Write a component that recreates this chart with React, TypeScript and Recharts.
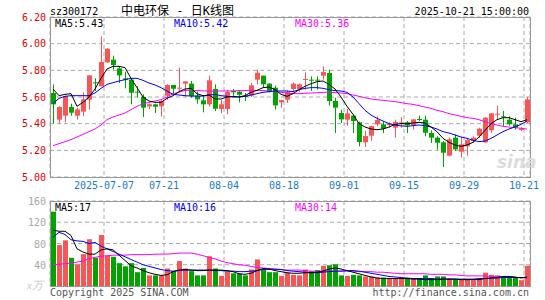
import React from "react";
import { ComposedChart, Bar, Line, XAxis, YAxis, CartesianGrid } from "recharts";

const MONO = "'DejaVu Sans Mono', 'Liberation Mono', monospace";
const TITLE_FONT = "'DejaVu Sans Mono', 'Noto Sans CJK SC', sans-serif";
const RED = "#f65656";
const GREEN = "#00a300";
const GRID = "#aaa";
const BORDER = "#999";

// daily candles, 2025-06-24 .. 2025-10-21
const OPEN = [5.63, 5.43, 5.46, 5.525, 5.46, 5.49, 5.58, 5.71, 5.68, 5.86, 5.88, 5.815, 5.74, 5.73, 5.64, 5.6, 5.53, 5.545, 5.53, 5.61, 5.69, 5.665, 5.7, 5.7, 5.61, 5.575, 5.545, 5.66, 5.51, 5.51, 5.645, 5.64, 5.61, 5.61, 5.73, 5.76, 5.7, 5.67, 5.56, 5.58, 5.66, 5.66, 5.73, 5.73, 5.73, 5.76, 5.78, 5.57, 5.48, 5.43, 5.46, 5.41, 5.26, 5.31, 5.395, 5.395, 5.39, 5.37, 5.405, 5.41, 5.39, 5.435, 5.43, 5.33, 5.295, 5.26, 5.16, 5.295, 5.19, 5.23, 5.27, 5.31, 5.26, 5.35, 5.47, 5.455, 5.43, 5.395, 5.355, 5.41];
const HIGH = [5.695, 5.53, 5.61, 5.55, 5.52, 5.635, 5.765, 5.74, 6.055, 5.965, 5.91, 5.83, 5.79, 5.735, 5.68, 5.62, 5.55, 5.55, 5.575, 5.695, 5.69, 5.82, 5.72, 5.72, 5.64, 5.61, 5.76, 5.695, 5.58, 5.655, 5.66, 5.645, 5.63, 5.705, 5.805, 5.76, 5.705, 5.685, 5.58, 5.65, 5.71, 5.7, 5.785, 5.755, 5.755, 5.83, 5.805, 5.595, 5.505, 5.51, 5.47, 5.415, 5.345, 5.385, 5.455, 5.42, 5.41, 5.43, 5.45, 5.42, 5.435, 5.46, 5.46, 5.35, 5.305, 5.27, 5.295, 5.32, 5.3, 5.295, 5.305, 5.37, 5.45, 5.48, 5.535, 5.495, 5.455, 5.445, 5.375, 5.6];
const LOW = [5.4, 5.4, 5.41, 5.46, 5.43, 5.455, 5.505, 5.645, 5.68, 5.855, 5.805, 5.705, 5.665, 5.545, 5.595, 5.45, 5.51, 5.48, 5.455, 5.58, 5.63, 5.645, 5.605, 5.595, 5.55, 5.485, 5.53, 5.495, 5.48, 5.47, 5.61, 5.56, 5.57, 5.6, 5.695, 5.67, 5.635, 5.505, 5.52, 5.555, 5.635, 5.64, 5.655, 5.645, 5.655, 5.73, 5.535, 5.33, 5.405, 5.385, 5.33, 5.23, 5.225, 5.27, 5.38, 5.33, 5.37, 5.295, 5.37, 5.33, 5.355, 5.42, 5.305, 5.255, 5.205, 5.075, 5.155, 5.195, 5.145, 5.16, 5.255, 5.295, 5.255, 5.33, 5.43, 5.38, 5.385, 5.355, 5.345, 5.405];
const CLOSE = [5.545, 5.525, 5.607, 5.482, 5.507, 5.582, 5.762, 5.707, 5.862, 5.962, 5.84, 5.762, 5.73, 5.632, 5.635, 5.52, 5.545, 5.527, 5.57, 5.69, 5.662, 5.67, 5.717, 5.607, 5.582, 5.545, 5.725, 5.512, 5.545, 5.637, 5.635, 5.617, 5.6, 5.687, 5.782, 5.695, 5.637, 5.537, 5.577, 5.637, 5.7, 5.695, 5.735, 5.725, 5.725, 5.787, 5.57, 5.52, 5.432, 5.477, 5.42, 5.262, 5.307, 5.382, 5.427, 5.362, 5.4, 5.412, 5.41, 5.387, 5.432, 5.43, 5.332, 5.295, 5.257, 5.182, 5.282, 5.207, 5.245, 5.277, 5.295, 5.362, 5.445, 5.477, 5.475, 5.45, 5.395, 5.37, 5.36, 5.582];
const MA5 = [5.66, 5.61, 5.62, 5.625, 5.53, 5.56, 5.6, 5.66, 5.74, 5.81, 5.83, 5.83, 5.82, 5.74, 5.67, 5.6, 5.57, 5.56, 5.56, 5.59, 5.61, 5.64, 5.66, 5.665, 5.625, 5.61, 5.615, 5.585, 5.585, 5.6, 5.605, 5.6, 5.61, 5.635, 5.65, 5.67, 5.675, 5.655, 5.62, 5.605, 5.625, 5.655, 5.68, 5.7, 5.715, 5.72, 5.695, 5.66, 5.6, 5.53, 5.47, 5.4, 5.375, 5.36, 5.355, 5.36, 5.375, 5.395, 5.4, 5.4, 5.405, 5.41, 5.405, 5.375, 5.34, 5.29, 5.26, 5.24, 5.23, 5.24, 5.26, 5.3, 5.35, 5.4, 5.43, 5.445, 5.445, 5.43, 5.415, 5.43];
const MA10 = [5.55, 5.59, 5.605, 5.61, 5.61, 5.61, 5.61, 5.63, 5.665, 5.695, 5.707, 5.72, 5.73, 5.74, 5.74, 5.725, 5.705, 5.69, 5.67, 5.645, 5.62, 5.615, 5.61, 5.607, 5.607, 5.607, 5.615, 5.62, 5.61, 5.605, 5.6, 5.6, 5.605, 5.615, 5.625, 5.635, 5.64, 5.645, 5.645, 5.645, 5.64, 5.655, 5.665, 5.67, 5.67, 5.665, 5.655, 5.648, 5.645, 5.635, 5.6, 5.55, 5.5, 5.465, 5.44, 5.42, 5.4, 5.39, 5.383, 5.38, 5.385, 5.39, 5.385, 5.375, 5.36, 5.34, 5.33, 5.315, 5.3, 5.29, 5.275, 5.265, 5.27, 5.29, 5.315, 5.34, 5.36, 5.375, 5.395, 5.42];
const MA30 = [5.235, 5.25, 5.265, 5.28, 5.3, 5.32, 5.34, 5.36, 5.39, 5.43, 5.45, 5.465, 5.48, 5.505, 5.53, 5.55, 5.56, 5.57, 5.58, 5.6, 5.625, 5.635, 5.65, 5.65, 5.648, 5.646, 5.645, 5.645, 5.645, 5.645, 5.646, 5.648, 5.648, 5.65, 5.65, 5.648, 5.645, 5.64, 5.635, 5.63, 5.625, 5.625, 5.628, 5.63, 5.632, 5.635, 5.635, 5.633, 5.63, 5.625, 5.615, 5.605, 5.595, 5.585, 5.58, 5.575, 5.57, 5.565, 5.558, 5.55, 5.545, 5.535, 5.525, 5.515, 5.5, 5.49, 5.475, 5.465, 5.455, 5.445, 5.44, 5.43, 5.415, 5.4, 5.39, 5.38, 5.375, 5.37, 5.365, 5.36];

// volume (万手)
const VOL = [140, 77, 86, 53, 41, 60, 88, 53, 96, 57, 55, 43, 37, 43, 26, 34, 20, 20, 20, 33, 28, 47, 33, 28, 20, 20, 56, 33, 19, 27, 24, 23, 20, 31, 50, 30, 26, 26, 19, 25, 21, 20, 31, 28, 30, 38, 39, 41, 20, 19, 21, 20, 18, 18, 16, 16, 14, 14, 14, 14, 14, 15, 20, 15, 18, 18, 14, 13, 13, 13, 11, 13, 25, 21, 20, 15, 15, 15, 11, 38];
const VMA5 = [105, 103, 103, 95, 70, 64, 60, 60, 68, 70, 68, 58, 48, 38, 34, 29, 25, 22, 20, 21, 27, 30, 31, 30, 29, 29, 30, 30, 30, 29, 27, 23, 22, 24, 29, 33, 32, 29, 27, 25, 24, 24, 25, 25, 26, 28, 32, 34, 32, 29, 26, 23, 20, 17, 15, 14, 14, 14, 14, 14, 13, 13, 12, 12, 12, 13, 13, 13, 12, 12, 12, 12, 14, 15, 16, 18, 18, 17, 15, 17];
const VMA10 = [92, 101, 97, 87, 85, 84, 80, 82, 75, 70, 65, 60, 55, 50, 45, 40, 37, 34, 31, 29, 28, 29, 30, 30, 30, 30, 30, 29, 29, 28, 28, 27, 27, 28, 29, 31, 31.5, 31.5, 31, 29, 28, 27, 26, 25, 25, 26, 27, 28, 28, 29, 29, 28, 26, 24, 22, 20, 18, 17, 16, 15, 14, 14, 14, 14, 13, 13, 13, 13, 13, 13, 13, 14, 14, 15, 15, 16, 16, 16, 16, 16];
const VMA30 = [40, 41, 42, 43, 45, 47, 51, 54, 56, 57, 58, 58, 58, 59, 59, 59, 59, 60, 60, 60, 61, 62, 62, 62, 60, 57, 54, 51, 47, 44, 42, 40, 39, 37, 35, 34, 33, 32, 31, 30, 30, 30, 29, 28, 28, 28, 28, 28, 28, 28, 28, 27, 27, 27, 26, 26, 25, 24, 23, 23, 23, 23, 23, 22, 22, 22, 21, 21, 20, 19, 19, 19, 19, 18, 18, 17, 17, 16, 16, 15];

const DATE_TICKS = [8.5, 18.5, 28.5, 38.5, 48.5, 58.5, 68.5, 78.5];
const DATE_LABELS = ["2025-07-07", "07-21", "08-04", "08-18", "09-01", "09-15", "09-29", "10-21"];
const PRICE_TICKS = [5.0, 5.2, 5.4, 5.6, 5.8, 6.0, 6.2];
const VOL_TICKS = [0, 40, 80, 120, 160];
const X_DOMAIN = [-0.5, 79.5];

const rows = OPEN.map((o, i) => ({
  i,
  o,
  h: HIGH[i],
  l: LOW[i],
  c: CLOSE[i],
  ma5: MA5[i],
  ma10: MA10[i],
  ma30: MA30[i],
  v: VOL[i],
  vma5: VMA5[i],
  vma10: VMA10[i],
  vma30: VMA30[i],
}));

function Candle(props: any) {
  const { x, y, width, height, payload } = props;
  const top = Math.min(y, y + height);
  const span = Math.abs(height);
  const { o, h, l, c } = payload;
  const color = c >= o ? RED : GREEN;
  const k = h > l ? span / (h - l) : 0;
  const bodyTop = top + (h - Math.max(o, c)) * k;
  const bodyH = Math.max(1, Math.abs(c - o) * k);
  const left = Math.floor(x);
  const wx = left + Math.floor(width / 2) + 0.5;
  return (
    <g>
      <line x1={wx} x2={wx} y1={top} y2={top + span} stroke={color} strokeWidth={1} />
      <rect x={left} y={bodyTop} width={width} height={bodyH} fill={color} />
    </g>
  );
}

function VolBar(props: any) {
  const { x, y, width, height, payload } = props;
  return (
    <rect
      x={Math.floor(x)}
      y={Math.min(y, y + height)}
      width={width}
      height={Math.abs(height)}
      fill={payload.c >= payload.o ? RED : GREEN}
    />
  );
}

function VolTick(props: any) {
  const { x, y, payload } = props;
  if (payload.value === 0) {
    return (
      <text x={x - 3} y={y} dy={3} textAnchor="end" fill="#c8c8c8" fontSize={11} fontFamily="serif" fontStyle="italic">
        x万
      </text>
    );
  }
  return (
    <text x={x} y={y} dy={4} textAnchor="end" fill="#a8a8a8" fontSize={10} fontFamily={MONO}>
      {payload.value}
    </text>
  );
}

// HTML text placed by baseline
function Txt({ x, base, color, children, right, size = 10, font = MONO, style }: any) {
  const s: React.CSSProperties = {
    position: "absolute",
    top: base - size * 0.85,
    fontFamily: font,
    fontSize: size,
    lineHeight: `${size}px`,
    color,
    whiteSpace: "pre",
    ...style,
  };
  if (right) s.right = 545 - x;
  else s.left = x;
  return <div style={s}>{children}</div>;
}

function Frame({ top, height }: { top: number; height: number }) {
  return (
    <div
      style={{
        position: "absolute",
        left: 50,
        top,
        width: 481,
        height,
        border: `1px solid ${BORDER}`,
        boxSizing: "border-box",
        pointerEvents: "none",
      }}
    />
  );
}

export default function App() {
  return (
    <div style={{ position: "absolute", left: 0, top: 0, width: 545, height: 300, background: "#fff", overflow: "hidden" }}>
      <div style={{ position: "absolute", left: 0, top: 0 }}>
        <ComposedChart width={545} height={195} data={rows} margin={{ top: 17, right: 15, left: 0, bottom: 5 }}>
          <CartesianGrid stroke={GRID} strokeDasharray="4 3" />
          <XAxis
            type="number"
            dataKey="i"
            domain={X_DOMAIN}
            allowDataOverflow
            ticks={DATE_TICKS}
            interval={0}
            tickFormatter={(v: number) => DATE_LABELS[DATE_TICKS.indexOf(v)] ?? ""}
            height={13}
            tickSize={0}
            tickMargin={5}
            axisLine={false}
            tickLine={false}
            tick={{ fill: "#1a7cc8", fontSize: 10, fontFamily: MONO }}
          />
          <YAxis
            domain={[5, 6.2]}
            allowDataOverflow
            ticks={PRICE_TICKS}
            interval={0}
            tickFormatter={(v: number) => v.toFixed(2)}
            width={50}
            tickSize={0}
            tickMargin={4}
            axisLine={false}
            tickLine={false}
            tick={{ fill: "#e00000", fontSize: 10, fontFamily: MONO }}
          />
          <Bar dataKey={(d: any) => [d.l, d.h]} barSize={5} shape={<Candle />} isAnimationActive={false} />
          <Line dataKey="ma30" stroke="#ff00ff" strokeWidth={1} dot={false} isAnimationActive={false} />
          <Line dataKey="ma10" stroke="#0000ff" strokeWidth={1} dot={false} isAnimationActive={false} />
          <Line dataKey="ma5" stroke="#000" strokeWidth={1} dot={false} isAnimationActive={false} />
        </ComposedChart>
      </div>

      <div style={{ position: "absolute", left: 0, top: 195 }}>
        <ComposedChart width={545} height={105} data={rows} margin={{ top: 6, right: 15, left: 0, bottom: 14 }}>
          <CartesianGrid stroke={GRID} strokeDasharray="4 3" />
          <XAxis type="number" dataKey="i" domain={X_DOMAIN} allowDataOverflow ticks={DATE_TICKS} interval={0} hide />
          <YAxis
            domain={[0, 160]}
            allowDataOverflow
            ticks={VOL_TICKS}
            interval={0}
            width={50}
            tickSize={0}
            tickMargin={4}
            axisLine={false}
            tickLine={false}
            tick={<VolTick />}
          />
          <Bar dataKey="v" barSize={5} shape={<VolBar />} isAnimationActive={false} />
          <Line dataKey="vma30" stroke="#ff00ff" strokeWidth={1} dot={false} isAnimationActive={false} />
          <Line dataKey="vma10" stroke="#0000ff" strokeWidth={1} dot={false} isAnimationActive={false} />
          <Line dataKey="vma5" stroke="#000" strokeWidth={1} dot={false} isAnimationActive={false} />
        </ComposedChart>
      </div>

      <Frame top={17} height={161} />
      <Frame top={201} height={86} />

      <Txt x={50} base={15} color="#000">sz300172</Txt>
      <Txt x={529} base={15} color="#000" right>2025-10-21 15:00:00</Txt>
      <Txt x={121} base={15} color="#000" size={12} font={TITLE_FONT}>中电环保 - 日K线图</Txt>
      <Txt x={55} base={27.5} color="#000">MA5:5.43</Txt>
      <Txt x={174} base={27.5} color="#0000ff">MA10:5.42</Txt>
      <Txt x={295} base={27.5} color="#ff00ff">MA30:5.36</Txt>
      <Txt x={55} base={211} color="#000">MA5:17</Txt>
      <Txt x={174} base={211} color="#0000ff">MA10:16</Txt>
      <Txt x={295} base={211} color="#ff00ff">MA30:14</Txt>
      <Txt x={50} base={296} color="#555">Copyright 2025 SINA.COM</Txt>
      <Txt x={529} base={296} color="#555" right>http://finance.sina.com.cn</Txt>
      <Txt x={497} base={168} color="#dcdcdc" size={17} font="'DejaVu Sans', sans-serif" style={{ fontStyle: "italic", fontWeight: "bold" }}>
        sina
      </Txt>
    </div>
  );
}
